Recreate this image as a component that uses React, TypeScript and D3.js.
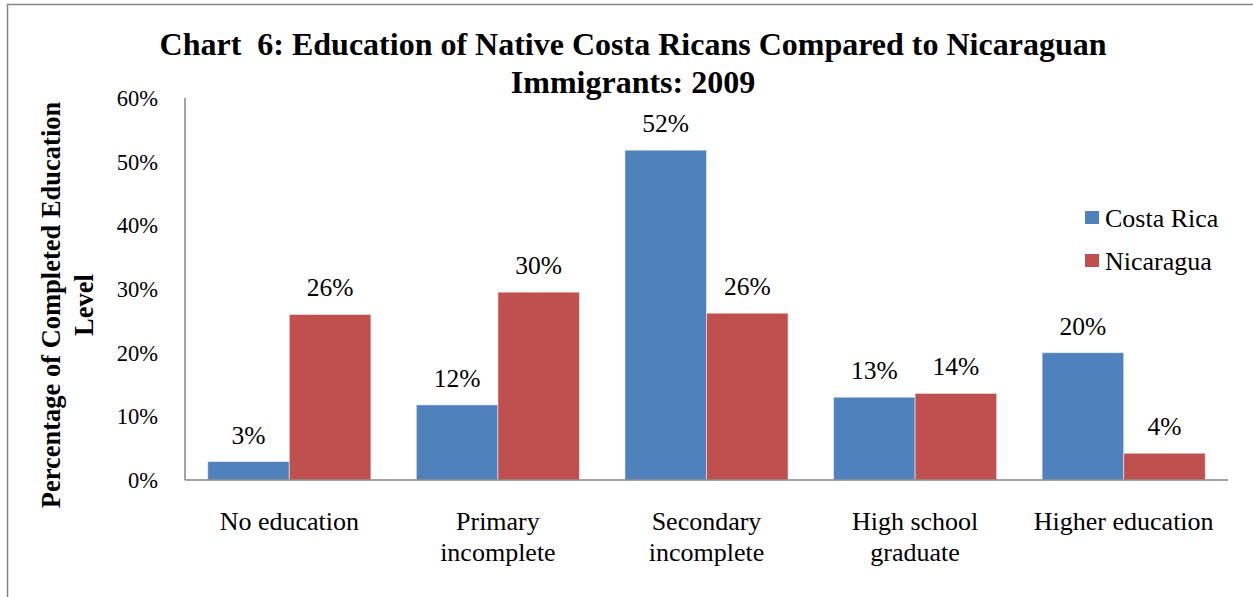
import React from "react";
import * as d3 from "d3";

const categories: string[][] = [
  ["No education"],
  ["Primary", "incomplete"],
  ["Secondary", "incomplete"],
  ["High school", "graduate"],
  ["Higher education"],
];
const seriesNames = ["Costa Rica", "Nicaragua"];
const costaRica = [0.029, 0.118, 0.518, 0.13, 0.2];
const nicaragua = [0.26, 0.295, 0.262, 0.136, 0.042];
const yTicks = [0, 0.1, 0.2, 0.3, 0.4, 0.5, 0.6];
const titleLines = [
  "Chart  6: Education of Native Costa Ricans Compared to Nicaraguan",
  "Immigrants: 2009",
];
const yAxisTitle = ["Percentage of Completed Education", "Level"];
const colors = ["#4F81BD", "#C0504D"];

export default function App() {
  const W = 1253;
  const H = 597;
  const left = 185;
  const right = 1228;
  const top = 98;
  const bottom = 480;
  const font = "'Liberation Serif', 'Times New Roman', serif";

  const x = d3
    .scaleBand<number>()
    .domain(d3.range(categories.length))
    .range([left, right])
    .paddingInner(0.218)
    .paddingOuter(0.109);
  const xs = d3
    .scaleBand<number>()
    .domain([0, 1])
    .range([0, x.bandwidth()])
    .padding(0);
  const y = d3.scaleLinear().domain([0, 0.6]).range([bottom, top]);
  const fmt = d3.format(".0%");
  const series = [costaRica, nicaragua];

  return (
    <svg
      width={W}
      height={H}
      style={{ position: "absolute", left: 0, top: 0, background: "#fff" }}
      fontFamily={font}
    >
      <rect x={0} y={0} width={W} height={H} fill="#fff" />
      <rect x={7.5} y={4.5} width={W + 20} height={H + 20} fill="none" stroke="#868686" strokeWidth={1.5} />

      {titleLines.map((t, i) => (
        <text
          key={i}
          x={633}
          y={55 + i * 38}
          textAnchor="middle"
          fontWeight="bold"
          fontSize={32}
          fill="#000"
          style={{ whiteSpace: "pre" }}
        >
          {t}
        </text>
      ))}

      <g transform="translate(60, 305) rotate(-90)">
        {yAxisTitle.map((t, i) => (
          <text key={i} x={0} y={i * 33} textAnchor="middle" fontWeight="bold" fontSize={26.5} fill="#000">
            {t}
          </text>
        ))}
      </g>

      {yTicks.map((v) => (
        <text key={v} x={158} y={y(v) + 8} textAnchor="end" fontSize={22.5} fill="#000">
          {fmt(v)}
        </text>
      ))}

      {series.map((vals, si) =>
        vals.map((v, ci) => {
          const bx = (x(ci) as number) + (xs(si) as number);
          return (
            <g key={`${si}-${ci}`}>
              <rect
                x={bx}
                y={y(v)}
                width={xs.bandwidth()}
                height={y(0) - y(v)}
                fill={colors[si]}
                stroke="#fff"
                strokeOpacity={0.5}
                strokeWidth={1}
              />
              <text
                x={bx + xs.bandwidth() / 2}
                y={y(v) - 18}
                textAnchor="middle"
                fontSize={25.5}
                fill="#000"
              >
                {fmt(v)}
              </text>
            </g>
          );
        })
      )}

      <line x1={left} x2={left} y1={top} y2={bottom} stroke="#868686" strokeWidth={1.5} />
      <line x1={left} x2={right} y1={bottom} y2={bottom} stroke="#868686" strokeWidth={1.5} />

      {categories.map((lines, ci) =>
        lines.map((l, li) => (
          <text
            key={`${ci}-${li}`}
            x={(x(ci) as number) + x.bandwidth() / 2}
            y={530 + li * 31}
            textAnchor="middle"
            fontSize={26}
            fill="#000"
          >
            {l}
          </text>
        ))
      )}

      {seriesNames.map((n, i) => (
        <g key={n} transform={`translate(1085, ${211 + i * 43})`}>
          <rect x={0} y={0} width={14} height={13} fill={colors[i]} />
          <text x={20} y={16} fontSize={26} fill="#000">
            {n}
          </text>
        </g>
      ))}
    </svg>
  );
}
